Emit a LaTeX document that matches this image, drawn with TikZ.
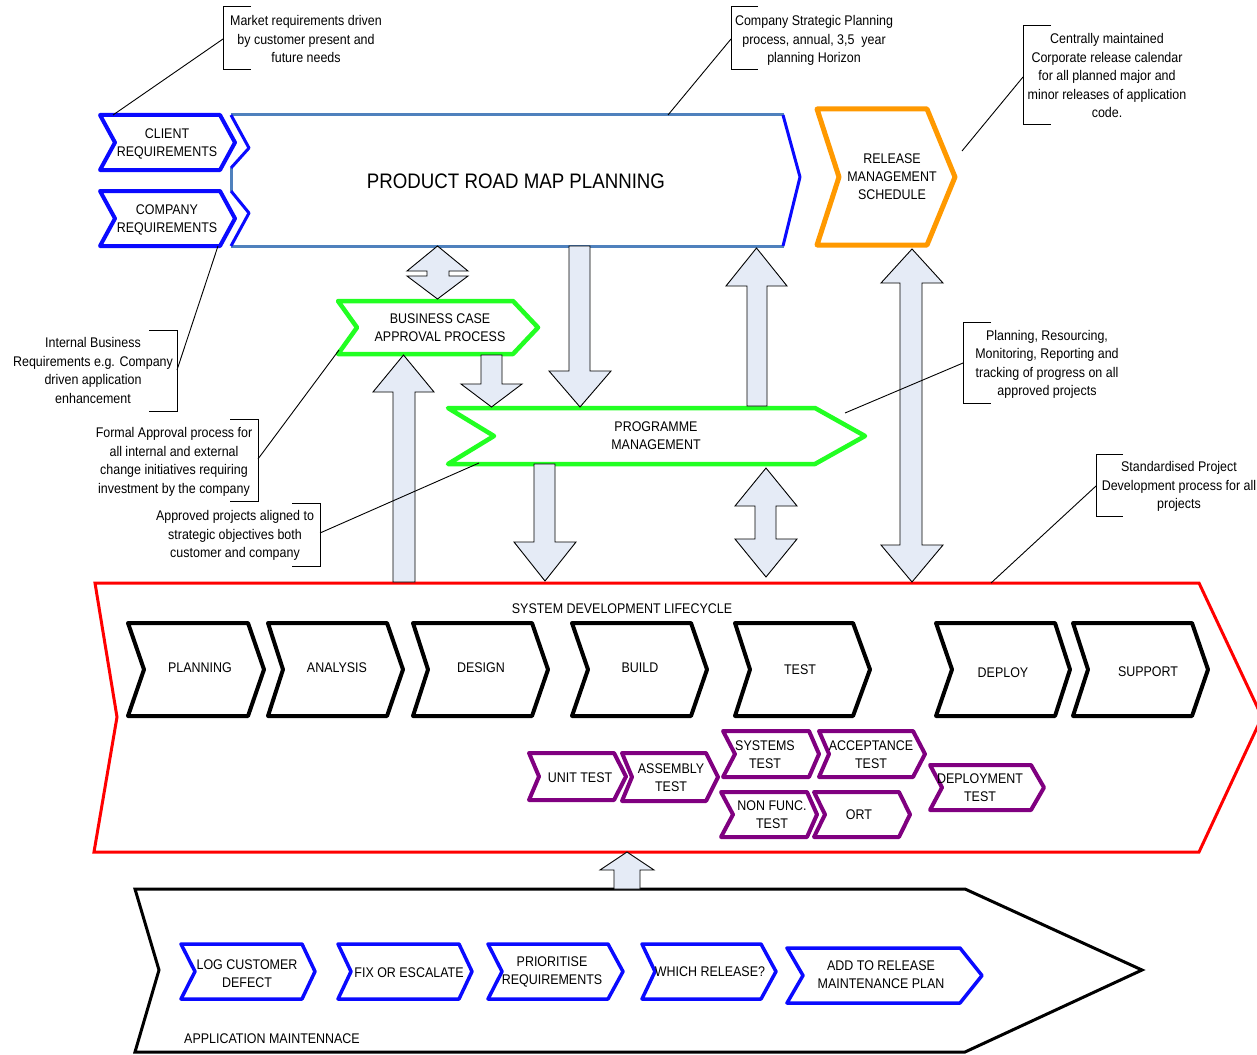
\documentclass[tikz,border=0pt]{standalone}
\usepackage{fontspec}
\setmainfont{Liberation Sans}[FakeStretch=0.89]
\definecolor{cblue}{HTML}{0A0AFF}
\definecolor{steel}{HTML}{4F81BD}
\definecolor{corange}{HTML}{FF9900}
\definecolor{cgreen}{HTML}{22FF22}
\definecolor{cred}{HTML}{FF0000}
\definecolor{cpurple}{HTML}{800080}
\definecolor{afill}{HTML}{E5EBF6}
\newcommand{\mychev}[7][]{\draw[#1] (#2,#6) -- (#4,#6) -- (#5,{(#6+#7)/2}) -- (#4,#7) -- (#2,#7) -- (#3,{(#6+#7)/2}) -- cycle;}
\newcommand{\sarrow}[7]{\draw[blockarrow] (#1,#5) -- (#2,#5) -- (#2,#6) -- (#4,#6) -- ({(#3+#4)/2},#7) -- (#3,#6) -- (#1,#6) -- cycle;}
\newcommand{\darrow}[8]{\draw[blockarrow] ({(#3+#4)/2},#5) -- (#4,#6) -- (#2,#6) -- (#2,#7) -- (#4,#7) -- ({(#3+#4)/2},#8) -- (#3,#7) -- (#1,#7) -- (#1,#6) -- (#3,#6) -- cycle;}
\tikzset{
  lbl/.style={font=\fontsize{14}{18}\selectfont, align=center, inner sep=0pt, yshift=-1.5pt},
  ann/.style={font=\fontsize{14}{18.5}\selectfont, align=center, inner sep=0pt, text depth=3pt, yshift=-2pt},
  bluechev/.style={draw=cblue, fill=white, line width=4, line join=round},
  mblue/.style={draw=cblue, fill=white, line width=3.5, line join=round},
  orangechev/.style={draw=corange, fill=white, line width=5, line join=round},
  greenchev/.style={draw=cgreen, fill=white, line width=4.5, line join=round},
  blackchev/.style={draw=black, fill=white, line width=4, line join=round},
  purplechev/.style={draw=cpurple, fill=white, line width=4, line join=round},
  blockarrow/.style={draw=black, fill=afill, line width=0.9, line join=miter},
  bracket/.style={draw=black, line width=1},
  leader/.style={draw=black, line width=0.9},
}
\begin{document}
\begin{tikzpicture}[x=1pt,y=-1pt]
\clip (0,0) rectangle (1257,1054);
\fill[white] (0,0) rectangle (1257,1054);

% SDLC container
\draw[cred, line width=3, line join=miter, fill=white] (95,583) -- (1199,583) -- (1262,717) -- (1199,852) -- (94,852) -- (117,717) -- cycle;
% Maintenance container
\draw[black, line width=3, line join=miter, fill=white] (135,889) -- (965,889) -- (1142,970) -- (965,1052) -- (135,1052) -- (159,970) -- cycle;

% Requirement chevrons
\mychev[bluechev]{100}{115}{220}{235}{115}{170}
\mychev[bluechev]{100}{115}{220}{235}{191}{246}

% Product road map
\fill[white] (232,115) -- (783,115) -- (800,177) -- (783,246) -- (231,246) -- (249,213) -- (231,191) -- (231,168) -- (249,148) -- cycle;
\draw[steel, line width=3] (231,115) -- (784,115);
\draw[steel, line width=3] (231,246) -- (784,246);
\draw[steel, line width=3] (231,168) -- (231,191);
\draw[cblue, line width=3, line join=round] (231,115) -- (249,148) -- (231,168);
\draw[cblue, line width=3, line join=round] (231,191) -- (249,213) -- (231,246);
\draw[cblue, line width=3, line join=round] (783,115) -- (800,177) -- (783,246);

% Release management
\mychev[orangechev]{817}{839}{927}{955}{109}{245}
% Business case and programme management
\mychev[greenchev]{338}{357}{513}{538}{301}{354}
\mychev[greenchev]{448}{494}{815}{865}{408}{464}

% SDLC chevrons
\mychev[blackchev]{128}{144}{248}{264}{623}{716}
\mychev[blackchev]{268}{283}{387}{403}{623}{716}
\mychev[blackchev]{413}{428}{532}{548}{623}{716}
\mychev[blackchev]{572}{588}{691}{707}{623}{716}
\mychev[blackchev]{735}{750}{853}{870}{623}{716}
\mychev[blackchev]{936}{952}{1055}{1070}{623}{716}
\mychev[blackchev]{1073}{1088}{1192}{1208}{623}{716}

% Test chevrons
\mychev[purplechev]{529}{539}{614}{626}{753}{800}
\mychev[purplechev]{622}{632}{706}{718}{753}{801}
\mychev[purplechev]{723}{735}{809}{819}{731}{777}
\mychev[purplechev]{819}{829}{913}{925}{731}{777}
\mychev[purplechev]{721}{733}{807}{817}{792}{837}
\mychev[purplechev]{814}{825}{899}{910}{792}{837}
\mychev[purplechev]{930}{942}{1031}{1044}{765}{810}

% Maintenance chevrons
\mychev[mblue]{181}{195}{302}{315}{944}{999}
\mychev[mblue]{338}{351}{459}{472}{944}{999}
\mychev[mblue]{488}{502}{608}{623}{944}{999}
\mychev[mblue]{642}{655}{761}{776}{944}{999}
\mychev[mblue]{787}{803}{960}{982}{948}{1003}

% Block arrows
\darrow{427}{449}{407}{468}{246}{271}{276}{299}
\sarrow{569}{590}{549}{611}{246}{371}{407}
\sarrow{747}{767}{726}{787}{406}{286}{248}
\sarrow{481}{502}{461}{522}{355}{384}{407}
\sarrow{393}{415}{373}{434}{582}{392}{355}
\sarrow{534}{555}{514}{576}{464}{542}{581}
\darrow{755}{776}{735}{797}{468}{506}{539}{577}
\darrow{900}{922}{881}{943}{249}{283}{545}{582}
\sarrow{614}{640}{600}{654}{889}{870}{852}

% Labels
\node[lbl] (client) at (167,142) {CLIENT\\REQUIREMENTS};
\node[lbl] (company) at (167,218) {COMPANY\\REQUIREMENTS};
\node[lbl, font=\fontsize{21}{25}\selectfont] (roadmap) at (516,180) {PRODUCT ROAD MAP PLANNING};
\node[lbl] (release) at (892,175) {RELEASE\\MANAGEMENT\\SCHEDULE};
\node[lbl] (business) at (440,326) {BUSINESS CASE\\APPROVAL PROCESS};
\node[lbl] (programme) at (656,434) {PROGRAMME\\MANAGEMENT};
\node[lbl] (sdlc) at (622,607) {SYSTEM DEVELOPMENT LIFECYCLE};
\node[lbl] (planning) at (200,666) {PLANNING};
\node[lbl] (analysis) at (337,666) {ANALYSIS};
\node[lbl] (design) at (481,666) {DESIGN};
\node[lbl] (build) at (640,666) {BUILD};
\node[lbl] (test) at (800,668) {TEST};
\node[lbl] (deploy) at (1003,671) {DEPLOY};
\node[lbl] (support) at (1148,670) {SUPPORT};
\node[lbl] (unit) at (580,776) {UNIT TEST};
\node[lbl] (assembly) at (671,776.5) {ASSEMBLY\\TEST};
\node[lbl] (systems) at (765,753) {SYSTEMS\\TEST};
\node[lbl] (accept) at (871,753) {ACCEPTANCE\\TEST};
\node[lbl] (nonfunc) at (772,813.5) {NON FUNC.\\TEST};
\node[lbl] (ort) at (859,813) {ORT};
\node[lbl] (deploytest) at (980,786) {DEPLOYMENT\\TEST};
\node[lbl] (maint) at (272,1037) {APPLICATION MAINTENNACE};
\node[lbl] (logdef) at (247,972) {LOG CUSTOMER\\DEFECT};
\node[lbl] (fix) at (409,971) {FIX OR ESCALATE};
\node[lbl] (prior) at (552,970) {PRIORITISE\\REQUIREMENTS};
\node[lbl] (which) at (710,970) {WHICH RELEASE?};
\node[lbl] (addrel) at (881,973.5) {ADD TO RELEASE\\MAINTENANCE PLAN};

% Annotations
\node[ann] (a1) at (306,38.5) {Market requirements driven\\by customer present and\\future needs};
\node[ann] (a2) at (814,38.5) {Company Strategic Planning\\process, annual, 3,5\ \ year\\planning Horizon};
\node[ann] (a3) at (1107,75) {Centrally maintained\\Corporate release calendar\\for all planned major and\\minor releases of application\\code.};
\node[ann] (a4) at (93,370) {Internal Business\\Requirements e.g. Company\\driven application\\enhancement};
\node[ann] (a5) at (174,460) {Formal Approval process for\\all internal and external\\change initiatives requiring\\investment by the company};
\node[ann] (a6) at (235,533.5) {Approved projects aligned to\\strategic objectives both\\customer and company};
\node[ann] (a7) at (1047,362.5) {Planning, Resourcing,\\Monitoring, Reporting and\\tracking of progress on all\\approved projects};
\node[ann] (a8) at (1179,484.5) {Standardised Project\\Development process for all\\projects};

% Brackets
\draw[bracket] (251,7) -- (223,7) -- (223,70) -- (251,70);
\draw[bracket] (758,7) -- (731,7) -- (731,70) -- (758,70);
\draw[bracket] (1051,26) -- (1023,26) -- (1023,125) -- (1051,125);
\draw[bracket] (149,330) -- (177,330) -- (177,411) -- (149,411);
\draw[bracket] (230,419) -- (258,419) -- (258,501) -- (230,501);
\draw[bracket] (292,503) -- (320,503) -- (320,566) -- (292,566);
\draw[bracket] (991,322) -- (963,322) -- (963,403) -- (991,403);
\draw[bracket] (1123,454) -- (1096,454) -- (1096,516) -- (1123,516);

% Leader lines
\coordinate (b1) at (223,39);   \coordinate (t1) at (113,115);
\coordinate (b2) at (731,39);   \coordinate (t2) at (668,115);
\coordinate (b3) at (1023,77);  \coordinate (t3) at (962,151);
\coordinate (b4) at (177,370);  \coordinate (t4) at (218,246);
\coordinate (b5) at (258,459);  \coordinate (t5) at (339,350);
\coordinate (b6) at (320,533);  \coordinate (t6) at (479,463);
\coordinate (b7) at (963,363);  \coordinate (t7) at (845,413);
\coordinate (b8) at (1096,486); \coordinate (t8) at (991,583);
\draw[leader] (b1) -- (t1);
\draw[leader] (b2) -- (t2);
\draw[leader] (b3) -- (t3);
\draw[leader] (b4) -- (t4);
\draw[leader] (b5) -- (t5);
\draw[leader] (b6) -- (t6);
\draw[leader] (b7) -- (t7);
\draw[leader] (b8) -- (t8);
\end{tikzpicture}
\end{document}
